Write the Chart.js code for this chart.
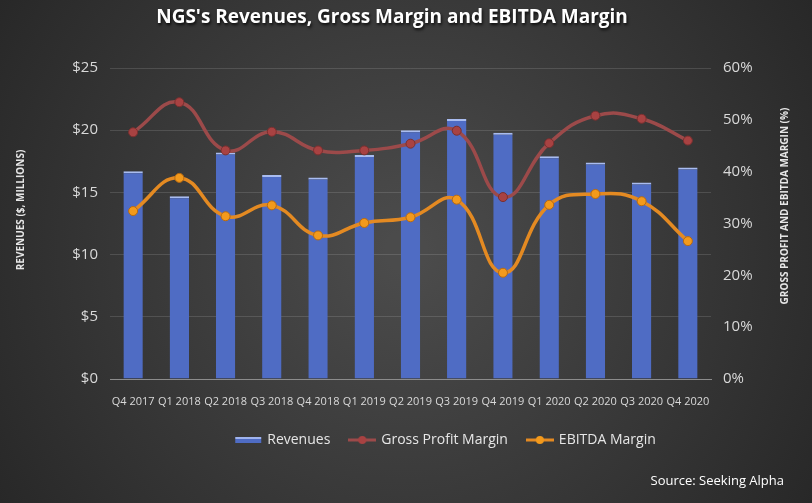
<!DOCTYPE html>
<html>
<head>
<meta charset="utf-8">
<script src="https://cdn.jsdelivr.net/npm/chart.js@4.4.1/dist/chart.umd.min.js"></script>
<style>
  html, body { margin: 0; padding: 0; background: #333; }
  #wrap { position: relative; width: 812px; height: 503px; }
  #source {
    position: absolute; right: 28px; top: 471px;
    font: 13px "Open Sans", "DejaVu Sans", sans-serif; color: #fff;
  }
</style>
</head>
<body>
<div id="wrap">
  <canvas id="chart" width="812" height="503"></canvas>
  <div id="source">Source: Seeking Alpha</div>
</div>
<script>
// --- Datos del gráfico ---
const quarters = [
  "Q4 2017", "Q1 2018", "Q2 2018", "Q3 2018", "Q4 2018", "Q1 2019", "Q2 2019",
  "Q3 2019", "Q4 2019", "Q1 2020", "Q2 2020", "Q3 2020", "Q4 2020",
];
const revenues = [16.7, 14.7, 18.2, 16.4, 16.2, 18.0, 20.0, 20.9, 19.8, 17.9, 17.4, 15.8, 17.0];
const grossMargin = [47.6, 53.4, 44.1, 47.7, 44.1, 44.1, 45.4, 47.9, 35.1, 45.5, 50.8, 50.2, 46.0];
const ebitdaMargin = [32.4, 38.8, 31.4, 33.5, 27.7, 30.1, 31.2, 34.6, 20.5, 33.6, 35.7, 34.3, 26.6];
const revenueTicks = [0, 5, 10, 15, 20, 25];
const marginTicks = [0, 10, 20, 30, 40, 50, 60];

// --- Colores ---
const barColor = "#4f6cc4";
const grossColor = "#9c4a4a";
const grossPoint = "#a84242";
const ebitdaColor = "#e48a22";
const ebitdaPoint = "#f39a1c";
const gridColor = "rgba(255, 255, 255, 0.13)";
const tickColor = "#d9d9d9";
const fontFamily = "'Open Sans', 'DejaVu Sans', sans-serif";

// Iconos de leyenda (línea con marcador)
function legendIcon(kind, line, dot) {
  const c = document.createElement("canvas");
  c.width = 28; c.height = 10;
  const g = c.getContext("2d");
  if (kind === "bar") {
    g.fillStyle = barColor;
    g.fillRect(1, 2, 26, 6);
    g.fillStyle = "#9fb3ee";
    g.fillRect(1, 2, 26, 2);
  } else {
    g.strokeStyle = line;
    g.lineWidth = 3;
    g.beginPath(); g.moveTo(0, 5); g.lineTo(28, 5); g.stroke();
    g.fillStyle = dot;
    g.beginPath(); g.arc(14, 5, 4, 0, Math.PI * 2); g.fill();
  }
  return c;
}

// Texto vertical (títulos de ejes)
function drawVertical(ctx, text, x, y) {
  ctx.save();
  ctx.translate(x, y);
  ctx.rotate(-Math.PI / 2);
  ctx.font = "bold 10px " + fontFamily;
  ctx.fillStyle = "#e6e6e6";
  ctx.textAlign = "center";
  ctx.textBaseline = "middle";
  ctx.fillText(text, 0, 0);
  ctx.restore();
}

// Fondo con degradado radial, título y títulos de ejes
const backgroundPlugin = {
  id: "background",
  afterLayout(chart) {
    // desplazar la leyenda hacia la derecha, como en el original
    if (chart.legend) {
      chart.legend.left += 40;
      chart.legend.right += 40;
    }
  },
  beforeDraw(chart) {
    const { ctx, width, height } = chart;
    const grad = ctx.createRadialGradient(width / 2, height / 2, 20, width / 2, height / 2, width * 0.62);
    grad.addColorStop(0, "#4b4b4b");
    grad.addColorStop(1, "#262626");
    ctx.save();
    ctx.fillStyle = grad;
    ctx.fillRect(0, 0, width, height);
    ctx.restore();
  },
  afterDraw(chart) {
    const ctx = chart.ctx;
    ctx.save();
    ctx.font = "bold 19px " + fontFamily;
    ctx.textAlign = "center";
    ctx.textBaseline = "middle";
    ctx.shadowColor = "rgba(0,0,0,0.8)";
    ctx.shadowOffsetX = 1;
    ctx.shadowOffsetY = 2;
    ctx.shadowBlur = 3;
    ctx.fillStyle = "#ffffff";
    ctx.fillText("NGS's Revenues, Gross Margin and EBITDA Margin", 392, 18);
    ctx.restore();
    drawVertical(ctx, "REVENUES ($, MILLIONS)", 21, 210);
    drawVertical(ctx, "GROSS PROFIT AND EBITDA MARGIN (%)", 785, 206);
  },
};

const ctx = document.getElementById("chart").getContext("2d");

// Degradado horizontal para las barras
function barGradient(context) {
  const el = context.element;
  const area = context.chart.chartArea;
  if (!area || !el || el.width === undefined) return barColor;
  const x0 = el.x - el.width / 2;
  const g = context.chart.ctx.createLinearGradient(x0, 0, x0 + el.width, 0);
  g.addColorStop(0, "#3d56aa");
  g.addColorStop(0.5, "#5574cf");
  g.addColorStop(1, "#3d56aa");
  return g;
}

new Chart(ctx, {
  type: "bar",
  data: {
    labels: quarters,
    datasets: [
      {
        type: "line",
        label: "Gross Profit Margin",
        data: grossMargin,
        yAxisID: "y1",
        borderColor: grossColor,
        backgroundColor: grossPoint,
        pointBackgroundColor: grossPoint,
        pointBorderColor: "#7a2f2f",
        pointBorderWidth: 1,
        pointRadius: 4.5,
        borderWidth: 3.5,
        tension: 0.45,
        order: 1,
      },
      {
        type: "line",
        label: "EBITDA Margin",
        data: ebitdaMargin,
        yAxisID: "y1",
        borderColor: ebitdaColor,
        backgroundColor: ebitdaPoint,
        pointBackgroundColor: ebitdaPoint,
        pointBorderColor: "#b86a10",
        pointBorderWidth: 1,
        pointRadius: 4.5,
        borderWidth: 3.5,
        tension: 0.45,
        order: 0,
      },
      {
        label: "Revenues",
        data: revenues,
        yAxisID: "y",
        backgroundColor: barGradient,
        borderColor: "#a9bcf0",
        borderWidth: { top: 2, left: 0, right: 0, bottom: 0 },
        borderSkipped: false,
        categoryPercentage: 1,
        barPercentage: 0.42,
        order: 2,
      },
    ],
  },
  options: {
    responsive: false,
    animation: false,
    layout: { padding: { top: 68, bottom: 46, left: 0, right: 0 } },
    plugins: {
      title: { display: false },
      tooltip: { enabled: false },
      legend: {
        display: true,
        position: "bottom",
        labels: {
          color: "#e6e6e6",
          font: { family: fontFamily, size: 14 },
          padding: 20,
          usePointStyle: true,
          pointStyleWidth: 24,
          generateLabels: () => [
            { text: "Revenues", pointStyle: legendIcon("bar"), fontColor: "#e6e6e6", datasetIndex: 2, hidden: false, lineWidth: 0 },
            { text: "Gross Profit Margin", pointStyle: legendIcon("line", grossColor, grossPoint), fontColor: "#e6e6e6", datasetIndex: 0, hidden: false, lineWidth: 0 },
            { text: "EBITDA Margin", pointStyle: legendIcon("line", ebitdaColor, ebitdaPoint), fontColor: "#e6e6e6", datasetIndex: 1, hidden: false, lineWidth: 0 },
          ],
        },
      },
    },
    scales: {
      x: {
        grid: { display: false },
        border: { color: "#8c8c8c" },
        ticks: { color: tickColor, font: { family: fontFamily, size: 11 }, maxRotation: 0, autoSkip: false, padding: 8 },
        afterFit(scale) { scale.height = 34; },
      },
      y: {
        position: "left",
        min: 0,
        max: 25,
        afterBuildTicks(scale) { scale.ticks = revenueTicks.map((v) => ({ value: v })); },
        grid: { color: gridColor, drawTicks: false },
        border: { display: false },
        ticks: { color: tickColor, font: { family: fontFamily, size: 15 }, padding: 12, callback: (v) => "$" + v },
        afterFit(scale) { scale.width = 110; },
      },
      y1: {
        position: "right",
        min: 0,
        max: 60,
        afterBuildTicks(scale) { scale.ticks = marginTicks.map((v) => ({ value: v })); },
        grid: { display: false, drawTicks: false },
        border: { display: false },
        ticks: { color: tickColor, font: { family: fontFamily, size: 15 }, padding: 12, callback: (v) => v + "%" },
        afterFit(scale) { scale.width = 101; },
      },
    },
  },
  plugins: [backgroundPlugin],
});
</script>
</body>
</html>
